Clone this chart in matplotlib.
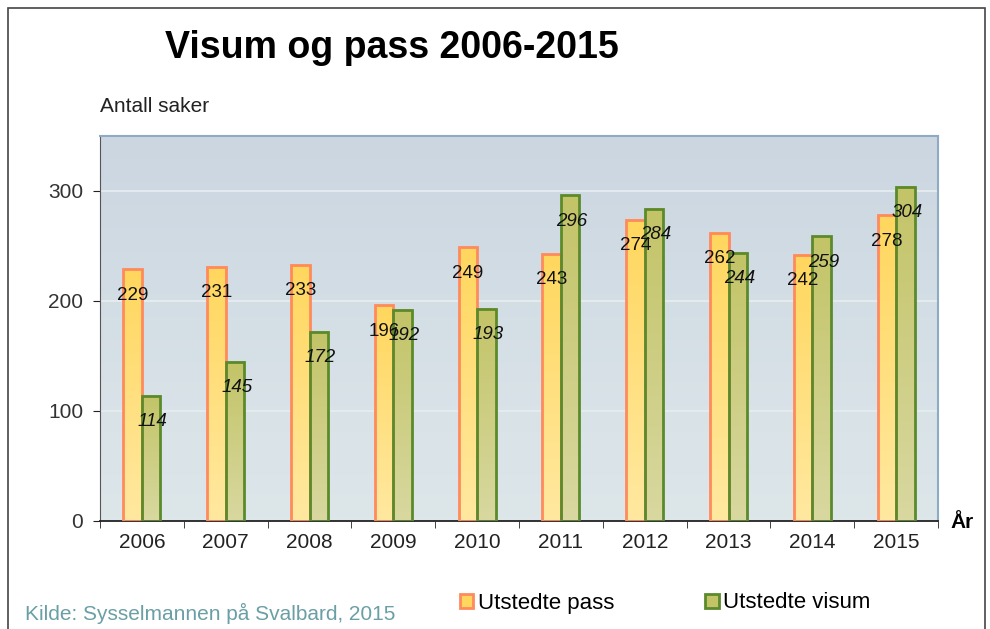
import numpy as np
import matplotlib.pyplot as plt
from matplotlib.patches import Patch, Rectangle
from matplotlib.colors import LinearSegmentedColormap

plt.rcParams['font.family'] = ['Liberation Sans', 'DejaVu Sans']

years = ['2006', '2007', '2008', '2009', '2010', '2011', '2012', '2013', '2014', '2015']
pass_vals = [229, 231, 233, 196, 249, 243, 274, 262, 242, 278]
visum_vals = [114, 145, 172, 192, 193, 296, 284, 244, 259, 304]

fig = plt.figure(figsize=(9.9, 6.29), dpi=100)
ax = fig.add_axes([100/990, 1-521/629, 838/990, 385/629])

x = np.arange(len(years))
w = 0.22

# background gradient
bg = LinearSegmentedColormap.from_list('bg', ['#dde7ea', '#ccd6e1'])
ax.imshow(np.linspace(0, 1, 100).reshape(-1, 1), extent=[-0.5, 9.5, 0, 350],
          origin='lower', aspect='auto', cmap=bg, zorder=0)

cm_pass = LinearSegmentedColormap.from_list('p', ['#ffe8a0', '#ffd75e'])
cm_vis = LinearSegmentedColormap.from_list('v', ['#d8d8a0', '#c3c467'])
grad = np.linspace(0, 1, 100).reshape(-1, 1)

for vals, off, cmap, ec in [(pass_vals, -w/2, cm_pass, '#ff8a5c'),
                            (visum_vals, w/2, cm_vis, '#5b8a2b')]:
    bars = ax.bar(x + off, vals, width=w, facecolor='none', edgecolor=ec,
                  linewidth=2, zorder=3)
    for b in bars:
        x0 = b.get_x()
        h = b.get_height()
        ax.imshow(grad, extent=[x0, x0 + w, 0, h], origin='lower', aspect='auto',
                  cmap=cmap, vmin=0, vmax=1, zorder=2)

for i in range(len(years)):
    ax.annotate(str(pass_vals[i]), (x[i] - w/2, pass_vals[i]), xytext=(0, -26),
                textcoords='offset pixels', ha='center', va='center',
                fontsize=13.5, color='#111111', zorder=5)
    ax.annotate(str(visum_vals[i]), (x[i] + w/2 + 0.02, visum_vals[i]), xytext=(0, -26),
                textcoords='offset pixels', ha='center', va='center', fontsize=13.5,
                style='italic', color='#111111', zorder=5)

ax.set_xlim(-0.5, 9.5)
ax.set_ylim(0, 350)
ax.set_yticks([0, 100, 200, 300])
for v in [100, 200, 300]:
    ax.axhline(v, color='#e6ecef', linewidth=1.3, zorder=1)

ax.set_xticks(x)
ax.set_xticklabels(years, fontsize=15, color='#222222')
ax.set_xticks(np.arange(-0.5, 10, 1), minor=True)
ax.tick_params(axis='x', which='major', length=0, pad=9)
ax.tick_params(axis='x', which='minor', length=5, direction='out', color='#222222')
ax.tick_params(axis='y', labelsize=15, labelcolor='#333333', length=5, direction='out',
               color='#222222', pad=7)

ax.spines['top'].set_color('#8eaac4')
ax.spines['right'].set_color('#8eaac4')
ax.spines['top'].set_linewidth(1.5)
ax.spines['right'].set_linewidth(1.5)
ax.spines['left'].set_color('#555555')
ax.spines['bottom'].set_color('#222222')
ax.spines['bottom'].set_linewidth(1.3)

fig.text(165/990, 1-48/629, 'Visum og pass 2006-2015', fontsize=27, fontweight='bold',
         ha='left', va='center')
fig.text(100/990, 1-106/629, 'Antall saker', fontsize=15, ha='left', va='center',
         color='#222222')
fig.text(950/990, 1-523/629, 'År', fontsize=15, fontweight='bold', ha='left', va='center')
fig.text(25/990, 1-613/629, 'Kilde: Sysselmannen på Svalbard, 2015', fontsize=15,
         color='#6a9fa5', ha='left', va='center')

handles = [Patch(facecolor='#ffd75e', edgecolor='#ff8a5c', linewidth=2, label='Utstedte pass'),
           Patch(facecolor='#c3c467', edgecolor='#5b8a2b', linewidth=2, label='Utstedte visum')]
fig.legend(handles=handles, loc='center left', bbox_to_anchor=(440/990, 1-603/629),
           ncol=2, frameon=False, fontsize=16, handlelength=0.6, handleheight=0.6,
           handletextpad=0.2, columnspacing=4.1)

fig.patches.append(Rectangle((8/990, -0.05), 977/990, 1.05 - 8/629, transform=fig.transFigure,
                             fill=False, edgecolor='#444444', linewidth=1.2))

fig.savefig('out.png', dpi=100)
